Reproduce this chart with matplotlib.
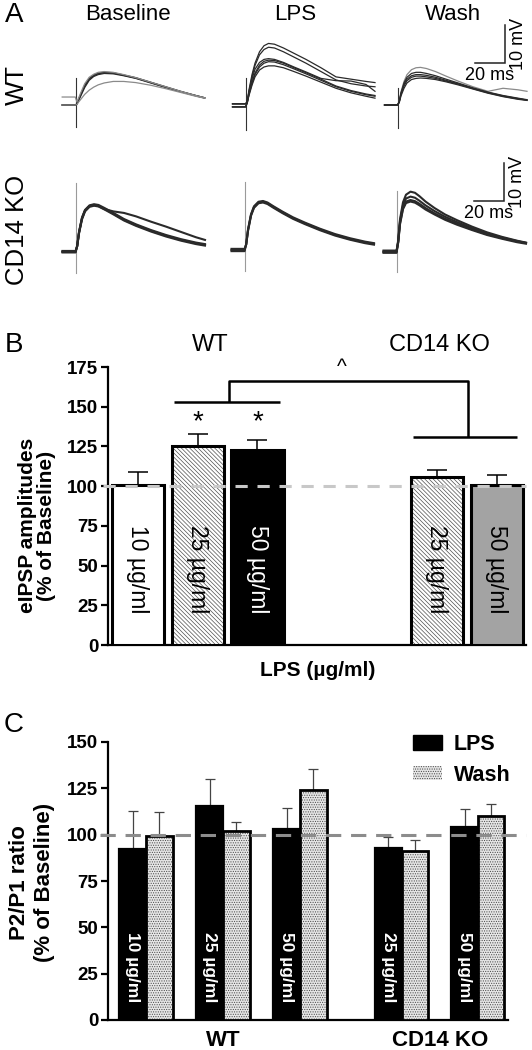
import matplotlib
matplotlib.use("Agg")
import matplotlib.pyplot as plt
from matplotlib.patches import Patch

plt.rcParams['font.family'] = ['Liberation Sans', 'DejaVu Sans']
plt.rcParams['hatch.linewidth'] = 0.5

# ---------------- DATA ----------------
# Panel A: traces (time in ms, voltage in mV relative to baseline)
T = [-9, -0.3, 0.8, 2, 4, 6, 9, 12, 15, 19, 25, 32, 40, 50, 60, 70, 80, 86]
ROWS = ['WT', 'CD14 KO']
COLS = ['Baseline', 'LPS', 'Wash']

wt_base = [
    [0, 0, 0.3, 1.6, 3.4, 5.2, 7.0, 7.9, 8.4, 8.6, 8.5, 7.9, 7.2, 6.0, 4.8, 3.6, 2.5, 1.9],
    [0, 0, 0.2, 1.2, 2.9, 4.6, 6.5, 7.5, 8.0, 8.3, 8.2, 7.7, 7.0, 5.8, 4.6, 3.5, 2.4, 1.8],
    [0, 0, 0.3, 1.4, 3.2, 5.0, 6.8, 7.7, 8.2, 8.5, 8.4, 7.8, 7.1, 5.9, 4.7, 3.5, 2.5, 1.9],
    [2.1, 2.1, 0.8, 1.9, 3.8, 5.6, 7.3, 8.1, 8.6, 8.8, 8.6, 8.0, 7.2, 6.0, 4.8, 3.6, 2.5, 1.9],
    [0, 0, 0.1, 0.8, 1.8, 2.8, 3.9, 4.7, 5.3, 5.8, 6.2, 6.2, 5.9, 5.2, 4.3, 3.3, 2.3, 1.8],
]
wt_lps = [
    [0.3, 0.3, 1.0, 4.0, 8.0, 11.0, 14.0, 15.6, 16.2, 16.0, 15.0, 13.6, 12.0, 9.8, 7.4, 6.8, 6.2, 5.9],
    [0.3, 0.3, 0.9, 3.6, 7.4, 10.4, 13.2, 14.6, 15.2, 15.0, 14.0, 12.6, 11.0, 8.8, 6.6, 5.6, 5.0, 4.8],
    [-0.5, -0.5, 0.5, 3.0, 6.0, 8.4, 10.5, 11.5, 11.8, 11.7, 11.0, 9.8, 8.5, 6.8, 5.0, 3.8, 2.9, 2.5],
    [-0.5, -0.5, 0.4, 2.8, 5.6, 8.0, 10.0, 11.0, 11.4, 11.3, 10.6, 9.5, 8.2, 6.5, 4.8, 3.6, 2.7, 2.3],
    [0.3, 0.3, 0.6, 2.5, 5.2, 7.4, 9.2, 10.0, 10.3, 10.3, 9.8, 8.8, 7.6, 6.0, 4.4, 3.2, 2.3, 1.8],
    [-0.5, -0.5, 0.8, 3.4, 6.8, 9.4, 11.2, 12.0, 12.2, 12.0, 11.2, 10.0, 8.7, 7.0, 6.4, 6.3, 5.4, 3.6],
]
wt_wash = [
    [0, 0, 1.0, 3.5, 6.2, 8.0, 9.3, 9.8, 9.9, 9.6, 8.8, 7.6, 6.3, 4.8, 3.6, 4.4, 4.0, 3.6],
    [0, 0, 0.8, 3.0, 5.4, 6.8, 7.7, 8.0, 8.0, 7.8, 7.3, 6.5, 5.6, 4.4, 3.3, 2.4, 1.7, 1.3],
    [0, 0, 0.7, 2.8, 5.0, 6.4, 7.3, 7.6, 7.6, 7.4, 7.0, 6.3, 5.5, 4.3, 3.2, 2.3, 1.6, 1.3],
    [0, 0, 0.6, 2.4, 4.4, 5.8, 6.7, 7.0, 7.1, 7.0, 6.7, 6.1, 5.3, 4.2, 3.1, 2.2, 1.5, 1.2],
    [0, 0, 0.9, 3.2, 5.8, 7.3, 8.3, 8.6, 8.6, 8.3, 7.7, 6.8, 5.8, 4.5, 3.4, 2.5, 1.8, 1.4],
]
ko_base = [
    [0, 0, 1.5, 5.0, 8.8, 10.8, 12.0, 12.3, 12.1, 11.3, 10.0, 8.4, 7.0, 5.5, 4.2, 3.1, 2.2, 1.8],
    [0.2, 0.2, 1.4, 4.8, 8.5, 10.6, 11.8, 12.1, 11.9, 11.1, 9.8, 8.2, 6.8, 5.3, 4.0, 2.9, 2.0, 1.6],
    [-0.2, -0.2, 1.6, 5.2, 9.0, 11.0, 12.2, 12.5, 12.3, 11.5, 10.2, 8.6, 7.2, 5.7, 4.4, 3.3, 2.4, 2.0],
    [0, 0, 1.5, 5.0, 8.8, 10.8, 12.0, 12.3, 12.0, 11.2, 10.6, 10.2, 9.3, 7.9, 6.6, 5.2, 3.8, 3.1],
]
ko_lps = [
    [0, 0, 1.5, 5.2, 9.2, 11.3, 12.5, 12.7, 12.3, 11.3, 9.9, 8.4, 7.0, 5.4, 4.0, 2.9, 2.0, 1.6],
    [0.3, 0.3, 1.4, 5.0, 9.0, 11.1, 12.3, 12.5, 12.1, 11.1, 9.7, 8.2, 6.8, 5.2, 3.8, 2.7, 1.8, 1.4],
    [-0.3, -0.3, 1.6, 5.4, 9.4, 11.5, 12.7, 12.9, 12.5, 11.5, 10.1, 8.6, 7.2, 5.6, 4.2, 3.1, 2.2, 1.8],
]
ko_wash = [
    [0, 0, 3.0, 8.5, 13.0, 15.0, 15.8, 15.5, 14.6, 13.2, 11.5, 9.8, 8.3, 6.6, 5.1, 3.9, 2.9, 2.4],
    [0.3, 0.3, 2.5, 7.5, 11.5, 13.2, 13.6, 13.3, 12.6, 11.5, 10.1, 8.7, 7.4, 5.9, 4.6, 3.6, 2.7, 2.3],
    [-0.3, -0.3, 2.4, 7.2, 11.2, 12.8, 13.2, 12.9, 12.2, 11.1, 9.8, 8.4, 7.1, 5.7, 4.4, 3.4, 2.5, 2.1],
    [0, 0, 2.7, 8.0, 12.2, 14.0, 14.5, 14.2, 13.4, 12.2, 10.7, 9.2, 7.8, 6.2, 4.8, 3.7, 2.8, 2.3],
]
TRACES = [[wt_base, wt_lps, wt_wash], [ko_base, ko_lps, ko_wash]]
ART_TOP = [[7.1, 7.1, 4.5], [18.0, 18.0, 16.0]]
ART_BOT = [[-5.8, -6.6, -6.0], [-5.6, -5.6, -5.3]]
SCALE_MS = 20
SCALE_MV = 10

# Panel B: eIPSP amplitudes (% of baseline)
B_GROUPS = ['WT', 'CD14 KO']
B_LABELS = ['10 µg/ml', '25 µg/ml', '50 µg/ml', '25 µg/ml', '50 µg/ml']
B_VALS = [101, 125.5, 123, 106, 101]
B_ERR = [8, 7.5, 6, 4, 6]

# Panel C: P2/P1 ratio (% of baseline)
C_GROUPS = ['WT', 'CD14 KO']
C_LABELS = ['10 µg/ml', '25 µg/ml', '50 µg/ml', '25 µg/ml', '50 µg/ml']
C_LPS = [92.3, 115.7, 103, 93, 104]
C_LPS_ERR = [20.7, 14.3, 11.5, 6, 10]
C_WASH = [99.5, 102, 124, 91, 110]
C_WASH_ERR = [12.5, 5, 11.7, 6, 6.7]
C_SERIES = ['LPS', 'Wash']

# ---------------- LAYOUT ----------------
W, H = 532, 1050
fig = plt.figure(figsize=(W / 100, H / 100), dpi=100)


def rect(l, t, r, b):
    return [l / W, 1 - b / H, (r - l) / W, (b - t) / H]


def ftext(x, y, s, **kw):
    fig.text(x / W, 1 - y / H, s, **kw)


# Panel A
PXMS, PXMV = 1.5, 3.8
XL, XR, YB, YT = -10, 92, -8, 26
stim_px = [[(75.7, 105), (246, 105), (398, 105)],
           [(76, 251.7), (245, 250), (397, 251.7)]]
gray_idx = {(0, 0): [3, 4], (0, 1): [], (0, 2): [0]}
axA = {}
for r in range(2):
    for c in range(3):
        sx, sy = stim_px[r][c]
        ax = fig.add_axes(rect(sx + XL * PXMS, sy - YT * PXMV, sx + XR * PXMS, sy - YB * PXMV))
        ax.set_xlim(XL, XR)
        ax.set_ylim(YB, YT)
        ax.axis('off')
        axA[(r, c)] = ax
        art_col = '#333333' if r == 0 else '#9a9a9a'
        ax.plot([0, 0], [ART_BOT[r][c], ART_TOP[r][c]], color=art_col, lw=0.8, clip_on=False)
        for i, v in enumerate(TRACES[r][c]):
            if r == 0:
                col = '#8a8a8a' if i in gray_idx.get((r, c), []) else '#2a2a2a'
                ax.plot(T, v, color=col, lw=0.9, clip_on=False)
            else:
                ax.plot(T, v, color='#2a2a2a', lw=1.5, clip_on=False)

# scale bars in the Wash axes
for r, yb in zip(range(2), [11.0, 13.3]):
    ax = axA[(r, 2)]
    x1 = 71.3
    ax.plot([x1 - SCALE_MS, x1, x1], [yb, yb, yb + SCALE_MV], color='#222222', lw=1.1,
            clip_on=False, solid_joinstyle='miter')
    ax.text(x1 - SCALE_MS / 2, yb - 1.0, f'{SCALE_MS} ms', ha='center', va='top', fontsize=13)
    ax.text(x1 + 3.5, yb + SCALE_MV / 2, f'{SCALE_MV} mV', ha='left', va='center',
            rotation=90, fontsize=13)

for x, s in zip([128, 295, 453], COLS):
    ftext(x, 15, s, ha='center', va='center', fontsize=16)
ftext(17, 85, ROWS[0], ha='center', va='center', rotation=90, fontsize=18.5)
ftext(17, 230, ROWS[1], ha='center', va='center', rotation=90, fontsize=18.5)
ftext(14, 15, 'A', ha='center', va='center', fontsize=20)
ftext(14, 345, 'B', ha='center', va='center', fontsize=20)
ftext(14, 725, 'C', ha='center', va='center', fontsize=20)

# ---------------- Panel B ----------------
axB = fig.add_axes(rect(108, 367, 526, 645))
B_POS = [0, 1, 2, 5, 6]
BW = 0.87
faces = ['white', 'white', 'black', 'white', '#a3a3a3']
hatches = [None, '\\' * 8, None, '\\' * 8, None]
for x, v, e, fc, h in zip(B_POS, B_VALS, B_ERR, faces, hatches):
    axB.errorbar(x, v, yerr=[[0], [e]], fmt='none', ecolor='black', elinewidth=1.1,
                 capsize=7, capthick=1.1, zorder=2)
    if h:
        axB.bar(x, v, width=BW, color='white', edgecolor='#505050', linewidth=0,
                hatch=h, zorder=3)
        axB.bar(x, v, width=BW, fill=False, edgecolor='black', linewidth=2.2, zorder=4)
    else:
        axB.bar(x, v, width=BW, color=fc, edgecolor='black', linewidth=2.2, zorder=3)
axB.set_xlim(-0.5, 6.49)
axB.set_ylim(0, 175)
axB.set_yticks([0, 25, 50, 75, 100, 125, 150, 175])
axB.set_xticks([])
for s in ['top', 'right']:
    axB.spines[s].set_visible(False)
for s in ['left', 'bottom']:
    axB.spines[s].set_linewidth(1.6)
axB.tick_params(axis='y', length=5, width=1.6, labelsize=13.5, pad=2)
for lab in axB.get_yticklabels():
    lab.set_fontweight('bold')
axB.plot([-0.586, 6.49], [100, 100], color='#c8c8c8', lw=2.2, dashes=(4, 3.2),
         zorder=5, clip_on=False)
for x, s, fc in zip(B_POS, B_LABELS, faces):
    axB.text(x, 48, s, rotation=270, ha='center', va='center', fontsize=16.5,
             color='white' if fc == 'black' else 'black', zorder=6)
# significance brackets
kw = dict(color='black', lw=1.8, clip_on=False, solid_capstyle='butt')
axB.plot([0.60, 2.38], [153, 153], **kw)
axB.plot([1.52, 1.52, 5.52, 5.52], [153, 166.4, 166.4, 131], **kw)
axB.plot([4.6, 6.34], [131, 131], **kw)
axB.text(3.41, 169, '^', ha='center', va='bottom', fontsize=15)
for x in [1, 2]:
    axB.text(x, 140, '*', ha='center', va='center', fontsize=20)
axB.text(0.502, -0.09, 'LPS (µg/ml)', transform=axB.transAxes, ha='center', va='center',
         fontsize=15, fontweight='bold')
axB.text(-0.17, 0.43, 'eIPSP amplitudes\n(% of Baseline)', transform=axB.transAxes,
         rotation=90, ha='center', va='center', fontsize=15, fontweight='bold',
         linespacing=0.95, multialignment='center')
ftext(210, 345, B_GROUPS[0], ha='center', va='center', fontsize=17)
ftext(439, 345, B_GROUPS[1], ha='center', va='center', fontsize=17)

# ---------------- Panel C ----------------
axC = fig.add_axes(rect(108, 742, 526, 1020))
C_POS = [0, 1, 2, 3.32, 4.31]
CW = 0.345
for x, v, e in zip(C_POS, C_LPS, C_LPS_ERR):
    axC.errorbar(x - CW / 2, v, yerr=[[0], [e]], fmt='none', ecolor='#444444',
                 elinewidth=0.9, capsize=3.6, capthick=0.9, zorder=2)
    axC.bar(x - CW / 2, v, width=CW, color='black', edgecolor='black', linewidth=1.6, zorder=3)
for x, v, e in zip(C_POS, C_WASH, C_WASH_ERR):
    axC.errorbar(x + CW / 2, v, yerr=[[0], [e]], fmt='none', ecolor='#444444',
                 elinewidth=0.9, capsize=3.6, capthick=0.9, zorder=2)
    axC.bar(x + CW / 2, v, width=CW, color='#e6e6e6', edgecolor='#4a4a4a', linewidth=0,
            hatch='.......', zorder=3)
    axC.bar(x + CW / 2, v, width=CW, fill=False, edgecolor='black', linewidth=2.0, zorder=4)
axC.set_xlim(-0.4935, 4.935)
axC.set_ylim(0, 150)
axC.set_yticks([0, 25, 50, 75, 100, 125, 150])
axC.set_xticks([])
for s in ['top', 'right']:
    axC.spines[s].set_visible(False)
for s in ['left', 'bottom']:
    axC.spines[s].set_linewidth(1.6)
axC.spines['bottom'].set_bounds(-0.4935, 4.70)
axC.tick_params(axis='y', length=5, width=1.6, labelsize=13.5, pad=2)
for lab in axC.get_yticklabels():
    lab.set_fontweight('bold')
axC.plot([-0.597, 4.935], [100, 100], color='#8c8c8c', lw=2.2, dashes=(5, 3.2),
         zorder=6, clip_on=False)
for x, s in zip(C_POS, C_LABELS):
    axC.text(x - CW / 2, 28.6, s, rotation=270, ha='center', va='center', fontsize=12.5,
             fontweight='bold', color='white', zorder=7)
axC.text(1, -0.075, C_GROUPS[0], transform=axC.get_xaxis_transform(), ha='center',
         va='center', fontsize=16, fontweight='bold')
axC.text((C_POS[3] + C_POS[4]) / 2, -0.075, C_GROUPS[1], transform=axC.get_xaxis_transform(),
         ha='center', va='center', fontsize=16, fontweight='bold')
axC.text(-0.182, 0.496, 'P2/P1 ratio\n(% of Baseline)', transform=axC.transAxes,
         rotation=90, ha='center', va='center', fontsize=16, fontweight='bold',
         linespacing=1.2, multialignment='center')
handles = [Patch(facecolor='black', edgecolor='black'),
           Patch(facecolor='#e6e6e6', edgecolor='#4a4a4a', hatch='.......', linewidth=0)]
axC.legend(handles, C_SERIES, loc='upper left', bbox_to_anchor=(413 / W, 1 - 734 / H),
           bbox_transform=fig.transFigure, frameon=False, handlelength=1.35,
           handleheight=0.65, handletextpad=0.55, labelspacing=0.45, borderpad=0,
           borderaxespad=0, prop={'weight': 'bold', 'size': 15.5})

fig.savefig('out.png', dpi=100)
